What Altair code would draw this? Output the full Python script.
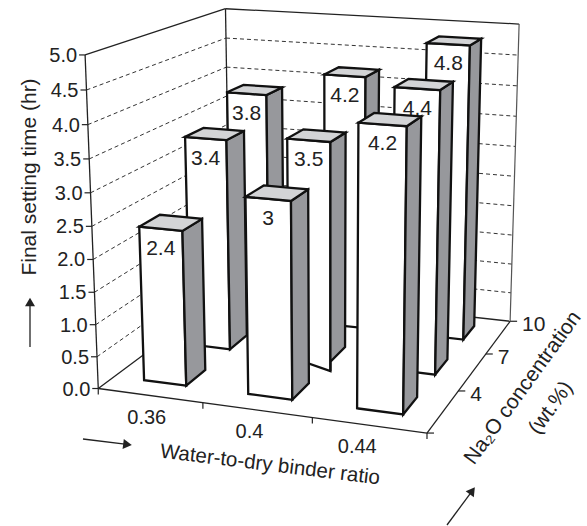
import numpy as np
import pandas as pd
import altair as alt

# ---------------- data ----------------
ratios = ["0.36", "0.4", "0.44"]            # water-to-dry binder ratio (x)
na2o = ["4", "7", "10"]                     # Na2O concentration, wt.% (depth)
time_na4 = [2.4, 3.0, 4.2]                  # final setting time (hr)
time_na7 = [3.4, 3.5, 4.4]
time_na10 = [3.8, 4.2, 4.8]
values = [time_na4, time_na7, time_na10]
y_ticks = [0.0, 0.5, 1.0, 1.5, 2.0, 2.5, 3.0, 3.5, 4.0, 4.5, 5.0]
y_labels = ["0.0", "0.5", "1.0", "1.5", "2.0", "2.5", "3.0", "3.5", "4.0", "4.5", "5.0"]
Y_MAX = 5.0

# ---------------- layout / perspective camera ----------------
W, H = 587, 526
FONT = "Liberation Sans"
NX, NZ = len(ratios), len(na2o)
# box corners (x-unit, value, depth-unit) -> page position, used to calibrate a pinhole camera
cal_3d = [(0, 0, 0), (0, 5, 0), (0, 5, 3), (3, 5, 3), (3, 0, 3), (3, 0, 0), (1, 0, 0), (2, 0, 0),
          (3, 0, 1), (3, 0, 2), (0, 4.5, 3), (0, 4, 3), (3, 2.5, 3), (0, 2.5, 0), (3, 4.5, 3),
          (3, 1, 3), (0, 1, 0), (0, 4, 0)]
cal_px = [(98, 388), (85, 55), (226, 8), (519, 24), (510, 321), (427, 432), (203, 404), (312, 418),
          (458, 391), (487, 355), (226, 38), (226, 68), (515, 177), (91.8, 228), (518, 55),
          (511, 263), (96, 323), (88, 124)]

A, b = [], []
for (X, Y, Z), (u, v) in zip(cal_3d, cal_px):
    A.append([X, Y, Z, 1, 0, 0, 0, 0, -u * X, -u * Y, -u * Z]); b.append(u)
    A.append([0, 0, 0, 0, X, Y, Z, 1, -v * X, -v * Y, -v * Z]); b.append(v)
p = np.linalg.lstsq(np.array(A, float), np.array(b, float), rcond=None)[0]
P = np.append(p, 1.0).reshape(3, 4)


def proj(X, Y, Z):
    h = P @ np.array([X, Y, Z, 1.0])
    return float(h[0] / h[2]), float(h[1] / h[2])


xs = alt.Scale(domain=[0, W], nice=False, zero=False)
ys = alt.Scale(domain=[0, H], nice=False, zero=False, reverse=True)
X_ = lambda f: alt.X(f, type="quantitative", scale=xs, axis=None)
Y_ = lambda f: alt.Y(f, type="quantitative", scale=ys, axis=None)


def poly_frame(pts):
    """convex polygon -> upper/lower chains for an area mark"""
    us = sorted(set(round(q[0], 3) for q in pts))
    rows = []
    n = len(pts)
    for x in us:
        hits = []
        for k in range(n):
            (u1, v1), (u2, v2) = pts[k], pts[(k + 1) % n]
            if abs(u1 - u2) < 1e-6:
                if abs(u1 - x) < 1e-3:
                    hits += [v1, v2]
            elif min(u1, u2) - 1e-3 <= x <= max(u1, u2) + 1e-3:
                hits.append(v1 + (x - u1) / (u2 - u1) * (v2 - v1))
        rows.append({"u": x, "v": min(hits), "v2": max(hits)})
    return pd.DataFrame(rows)


def area(pts, fill):
    return alt.Chart(poly_frame(pts)).mark_area(
        fill=fill, stroke="#111111", strokeWidth=2.3, strokeJoin="miter", opacity=1
    ).encode(x=X_("u"), y=Y_("v"), y2="v2:Q")


def rules(rows, **kw):
    df = pd.DataFrame(rows, columns=["u", "v", "u2", "v2"])
    return alt.Chart(df).mark_rule(**kw).encode(x=X_("u"), y=Y_("v"), x2="u2:Q", y2="v2:Q")


def texts(rows, **kw):
    df = pd.DataFrame(rows, columns=["u", "v", "t"])
    return alt.Chart(df).mark_text(font=FONT, color="#222222", **kw).encode(
        x=X_("u"), y=Y_("v"), text="t:N")


def seg(a, b):
    return (*proj(*a), *proj(*b))


layers = []

# walls: dashed gridlines
grid = []
for t in y_ticks[1:-1]:
    grid.append(seg((0, t, 0), (0, t, NZ)))
    grid.append(seg((0, t, NZ), (NX, t, NZ)))
layers.append(rules(grid, color="#333333", strokeWidth=1, strokeDash=[4, 3]))

# wall / floor edges
edges = [seg((0, 0, 0), (0, Y_MAX, 0)), seg((0, Y_MAX, 0), (0, Y_MAX, NZ)),
         seg((0, 0, NZ), (0, Y_MAX, NZ)), seg((0, Y_MAX, NZ), (NX, Y_MAX, NZ)),
         seg((0, 0, 0), (NX, 0, 0)), seg((NX, 0, 0), (NX, 0, NZ)),
         seg((0, 0, 0), (0, 0, NZ)), seg((0, 0, NZ), (NX, 0, NZ))]
layers.append(rules(edges, color="#222222", strokeWidth=1.3))
layers.append(rules([seg((NX, 0, NZ), (NX, Y_MAX, NZ))], color="#555555", strokeWidth=1.2))

# ticks
ticks = []
for t in y_ticks:
    u, v = proj(0, t, 0)
    ticks.append((u - 6, v, u, v))
for k in range(NX + 1):
    u, v = proj(k, 0, 0)
    ticks.append((u, v, u, v + 6))
for k in range(NZ + 1):
    u, v = proj(NX, 0, k)
    ticks.append((u, v, u + 7, v))
layers.append(rules(ticks, color="#222222", strokeWidth=1.2))

# bars (back rows first, left to right)
BX0, BX1 = 0.29, 0.70
BZ0, BZ1 = 0.32, 0.74
for j in reversed(range(NZ)):
    for i in range(NX):
        h = values[j][i]
        x0, x1 = i + BX0, i + BX1
        z0, z1 = j + BZ0, j + BZ1
        front = [proj(x0, 0, z0), proj(x1, 0, z0), proj(x1, h, z0), proj(x0, h, z0)]
        side = [proj(x1, 0, z0), proj(x1, 0, z1), proj(x1, h, z1), proj(x1, h, z0)]
        top = [proj(x0, h, z0), proj(x1, h, z0), proj(x1, h, z1), proj(x0, h, z1)]
        layers.append(area(front, "white"))
        layers.append(area(side, "#97989c"))
        layers.append(area(top, "#d3d4d6"))
        u, v = proj((x0 + x1) / 2, h, z0)
        layers.append(texts([(u, v, f"{h:g}")], fontSize=21, align="center",
                            baseline="middle", dy=20))

# tick labels
ylab = []
for t, lab in zip(y_ticks, y_labels):
    u, v = proj(0, t, 0)
    ylab.append((u - 8, v, lab))
layers.append(texts(ylab, fontSize=20, align="right", baseline="middle", dy=1))
xlab = []
x_label_dx = [2, -2, -6]
for i, lab in enumerate(ratios):
    u, v = proj(i + 0.45, 0, 0)
    xlab.append((u + x_label_dx[i], v, lab))
layers.append(texts(xlab, fontSize=20, align="center", baseline="middle", dy=23))
zlab = []
for k, lab in enumerate(na2o):
    u, v = proj(NX, 0, k + 1)
    zlab.append((u, v, lab))
layers.append(texts(zlab, fontSize=21, align="left", baseline="middle", dx=12, dy=4))

# axis titles
layers.append(texts([(30, 177, "Final setting time (hr)")], fontSize=21, align="center",
                    baseline="middle", angle=270))
layers.append(texts([(270, 465, "Water-to-dry binder ratio")], fontSize=20.5, align="center",
                    baseline="middle", angle=7))
layers.append(texts([(523, 388, "Na₂O concentration")], fontSize=21, align="center",
                    baseline="middle", angle=306))
layers.append(texts([(551, 408, "(wt.%)")], fontSize=21, align="center",
                    baseline="middle", angle=306))

# arrows
layers.append(rules([(30, 347, 30, 302), (83, 439, 127, 444.4), (447, 525, 471.5, 491.8)],
                    color="#222222", strokeWidth=1.3))
heads = pd.DataFrame({"u": [30, 127.5, 472.3], "v": [302, 444.5, 490.8], "a": [0, 97, 36]})
layers.append(alt.Chart(heads).mark_point(shape="triangle-up", filled=True, size=100,
                                          color="#222222", opacity=1).encode(
    x=X_("u"), y=Y_("v"), angle=alt.Angle("a:Q", scale=None)))

chart = alt.layer(*layers).properties(
    width=W, height=H, padding=0, autosize="none"
).configure_view(stroke=None)

chart.save("out.html", embed_options={"renderer": "svg", "actions": False})
